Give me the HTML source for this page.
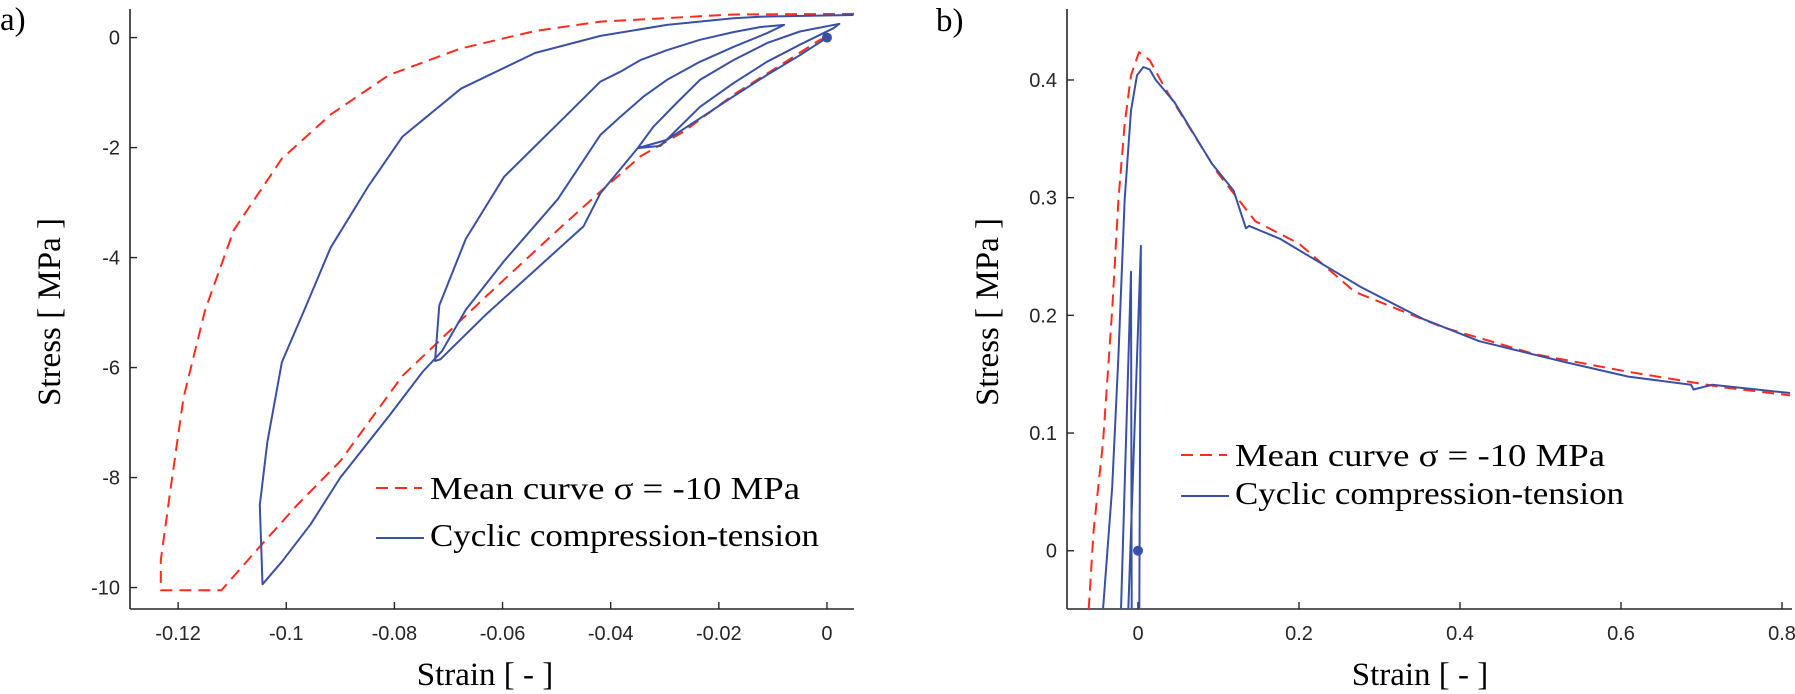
<!DOCTYPE html>
<html>
<head>
<meta charset="utf-8">
<style>
  html,body{margin:0;padding:0;background:#fff;width:1795px;height:694px;overflow:hidden;}
  svg{display:block;}
  .tick{font-family:"Liberation Sans",sans-serif;font-size:20px;fill:#262626;}
  .ttl{font-family:"Liberation Serif",serif;font-size:33px;fill:#000;}
  .leg{font-family:"Liberation Serif",serif;font-size:32px;fill:#000;}
</style>
</head>
<body>
<svg id="fig" width="1795" height="694" viewBox="0 0 1795 694" xmlns="http://www.w3.org/2000/svg">
  <defs>
    <clipPath id="clipA"><rect x="130" y="9" width="724" height="600"/></clipPath>
    <clipPath id="clipB"><rect x="1067" y="9" width="725" height="600"/></clipPath>
  </defs>
  <text x="0" y="30" class="ttl">a)</text>
  <text x="936" y="31" class="ttl">b)</text>
  <g id="panelA"></g>
  <g id="panelB"></g>
</svg>
<script>
// ---------- Panel a data ----------
const aXTicks = [-0.12, -0.1, -0.08, -0.06, -0.04, -0.02, 0];
const aXTickLabels = ["-0.12", "-0.1", "-0.08", "-0.06", "-0.04", "-0.02", "0"];
const aYTicks = [0, -2, -4, -6, -8, -10];
const aYTickLabels = ["0", "-2", "-4", "-6", "-8", "-10"];
const aMeanStrain = [0.005, -0.0173, -0.0419, -0.054, -0.0678, -0.081, -0.0918, -0.1008, -0.1097, -0.115, -0.119, -0.1214, -0.1232, -0.1232, -0.112, -0.1053, -0.098, -0.090, -0.0785, -0.063, -0.0498, -0.0419, -0.0345, -0.0265, -0.0173, -0.0081, -0.0013, 0];
const aMeanStress = [0.43, 0.42, 0.29, 0.12, -0.2, -0.68, -1.4, -2.2, -3.5, -4.95, -6.55, -8.2, -9.5, -10.05, -10.05, -9.3, -8.5, -7.7, -6.15, -4.7, -3.5, -2.8, -2.16, -1.71, -1.04, -0.47, -0.04, 0];
const aCycStrain = [0, -0.005, -0.0111, -0.0173, -0.0235, -0.0296, -0.035,
  -0.0321, -0.0278, -0.0235, -0.0173, -0.0111, -0.005, 0.0023,
  0.0012, -0.005, -0.0111, -0.0173, -0.0235, -0.0308, -0.035, -0.0419, -0.045, -0.054, -0.063, -0.0715, -0.0725, -0.0717,
  -0.0668, -0.0597, -0.0498, -0.0419, -0.0382, -0.0345, -0.0296, -0.0235, -0.0173, -0.0124, -0.0079,
  -0.0111, -0.0173, -0.0235, -0.0296, -0.0339, -0.0382, -0.0419, -0.0498, -0.0597, -0.0668, -0.0712,
  -0.0748, -0.081, -0.090, -0.0955, -0.1008, -0.1044,
  -0.1049, -0.1035, -0.1008, -0.0963, -0.0918, -0.0848, -0.0785, -0.0677, -0.054, -0.0419, -0.0296, -0.0173, -0.0124, 0.0049];
const aCycStress = [0, -0.32, -0.68, -1.07, -1.47, -1.86, -2.01,
  -1.62, -1.19, -0.77, -0.41, -0.10, 0.11, 0.25,
  0.17, -0.13, -0.44, -0.83, -1.26, -1.97, -2.01, -2.83, -3.43, -4.23, -5.03, -5.85, -5.88, -4.87,
  -3.66, -2.53, -1.57, -0.80, -0.62, -0.41, -0.23, -0.04, 0.10, 0.19, 0.23,
  0.08, -0.17, -0.44, -0.77, -1.07, -1.44, -1.77, -2.94, -4.06, -4.95, -5.7,
  -6.08, -6.88, -8.0, -8.85, -9.53, -9.94,
  -8.5, -7.36, -5.9, -4.87, -3.82, -2.7, -1.8, -0.93, -0.28, 0.03, 0.23, 0.35, 0.38, 0.41];

// ---------- Panel b data ----------
const bXTicks = [0, 0.2, 0.4, 0.6, 0.8];
const bXTickLabels = ["0", "0.2", "0.4", "0.6", "0.8"];
const bYTicks = [0, 0.1, 0.2, 0.3, 0.4];
const bYTickLabels = ["0", "0.1", "0.2", "0.3", "0.4"];
const bMeanStrain = [-0.0612, -0.0552, -0.0435, -0.032, -0.0242, -0.0165, -0.0087, 0.0012, 0.0144, 0.0335, 0.0607, 0.099, 0.1457, 0.200, 0.269, 0.378, 0.493, 0.609, 0.725, 0.81];
const bMeanStress = [-0.05, 0.017, 0.092, 0.205, 0.299, 0.363, 0.404, 0.4236, 0.417, 0.393, 0.363, 0.321, 0.280, 0.261, 0.220, 0.190, 0.167, 0.152, 0.139, 0.132];
const bCycStrain = [-0.0435, -0.032, -0.0242, -0.0165, -0.0087, -0.0012, 0.0067, 0.0144, 0.0221, 0.0453, 0.0684, 0.0917, 0.1188, 0.134, 0.138, 0.1766, 0.223, 0.277, 0.354, 0.424, 0.532, 0.609, 0.687, 0.69, 0.713, 0.81];
const bCycStress = [-0.05, 0.054, 0.167, 0.299, 0.374, 0.404, 0.411, 0.409, 0.400, 0.381, 0.355, 0.329, 0.306, 0.274, 0.276, 0.265, 0.246, 0.224, 0.197, 0.178, 0.160, 0.148, 0.141, 0.137, 0.141, 0.134];
const bSpikeStrain = [-0.0211, -0.0087, -0.0078, -0.012, 0.0036, 0.0016];
const bSpikeStress = [-0.05, 0.237, -0.05, -0.05, 0.259, -0.05];

const NS = "http://www.w3.org/2000/svg";
const RED = "#ff2b1c", BLUE = "#3a50a6", AX = "#262626";

function mk(tag, attrs, parent) {
  const el = document.createElementNS(NS, tag);
  for (const k in attrs) el.setAttribute(k, attrs[k]);
  parent.appendChild(el);
  return el;
}

function drawPanel(g, cfg) {
  const X = v => cfg.px0 + (v - cfg.x0) * (cfg.px1 - cfg.px0) / (cfg.x1 - cfg.x0);
  const Y = v => cfg.py0 + (v - cfg.y0) * (cfg.py1 - cfg.py0) / (cfg.y1 - cfg.y0);
  const ya = mk("line", {x1: cfg.px0, y1: cfg.py1, x2: cfg.px0, y2: cfg.py0, stroke: AX, "stroke-width": 1.6}, g);
  
  
  const xa = mk("line", {x1: cfg.px0, y1: cfg.py0, x2: cfg.px1, y2: cfg.py0, stroke: AX, "stroke-width": 1.6}, g);
  
  
  cfg.xt.forEach((t, i) => {
    const x = X(t);
    const tk = mk("line", {x1: x, y1: cfg.py0, x2: x, y2: cfg.py0 - 7, stroke: AX, "stroke-width": 1.4}, g);
    
    
    const tl = mk("text", {x: x, y: cfg.py0 + 31, "text-anchor": "middle", class: "tick"}, g);
    tl.textContent = cfg.xl[i];
    
    
  });
  cfg.yt.forEach((t, i) => {
    const y = Y(t);
    const tk = mk("line", {x1: cfg.px0, y1: y, x2: cfg.px0 + 7, y2: y, stroke: AX, "stroke-width": 1.4}, g);
    
    
    const tl = mk("text", {x: cfg.px0 - 10, y: y + 7, "text-anchor": "end", class: "tick"}, g);
    tl.textContent = cfg.yl[i];
    
    
  });
  const xt = mk("text", {x: cfg.xtx, y: 685, "text-anchor": "middle", class: "ttl"}, g);
  xt.textContent = "Strain [ - ]";
  
  
  const yt = mk("text", {x: 0, y: 0, "text-anchor": "middle", class: "ttl", transform: `translate(${cfg.ytx},312) rotate(-90)`}, g);
  yt.textContent = "Stress [ MPa ]";
  
  
  const plot = mk("g", {"clip-path": `url(#${cfg.clip})`}, g);
  
  
  const pts = (xs, ys) => xs.map((v, i) => X(v).toFixed(1) + "," + Y(ys[i]).toFixed(1)).join(" ");
  cfg.series.forEach(s => {
    const pl = mk("polyline", {points: pts(s.x, s.y), fill: "none", stroke: s.color, "stroke-width": 2, "stroke-linejoin": "round", "stroke-dasharray": s.dash || "none"}, plot);
    
    
  });
  const dot = mk("circle", {cx: X(0), cy: Y(0), r: 5, fill: BLUE}, plot);
  
  
  const lg = mk("g", {}, g);
  
  
  const l1 = mk("line", {x1: cfg.lx, y1: cfg.ly1, x2: cfg.lx + 46, y2: cfg.ly1, stroke: RED, "stroke-width": 2, "stroke-dasharray": "12,7"}, lg);
  
  
  const t1 = mk("text", {x: cfg.lx + 54, y: cfg.ly1 + 11, class: "leg", textLength: 370, lengthAdjust: "spacingAndGlyphs"}, lg);
  t1.textContent = "Mean curve σ = -10 MPa";
  
  
  const l2 = mk("line", {x1: cfg.lx, y1: cfg.ly2, x2: cfg.lx + 48, y2: cfg.ly2, stroke: BLUE, "stroke-width": 2}, lg);
  
  
  const t2 = mk("text", {x: cfg.lx + 54, y: cfg.ly2 + 8, class: "leg", textLength: 389, lengthAdjust: "spacingAndGlyphs"}, lg);
  t2.textContent = "Cyclic compression-tension";
  
  
}

drawPanel(document.getElementById("panelA"), {
  id: "panel-a", clip: "clipA",
  x0: -0.1289, x1: 0.005, px0: 130, px1: 854, y0: -10.39, y1: 0.52, py0: 609, py1: 9,
  xt: aXTicks, xl: aXTickLabels, yt: aYTicks, yl: aYTickLabels,
  xtx: 485, ytx: 60, lx: 376, ly1: 488, ly2: 538,
  series: [
    {x: aMeanStrain, y: aMeanStress, color: RED, dash: "12,7", name: "panel-a-mean-curve"},
    {x: aCycStrain, y: aCycStress, color: BLUE, name: "panel-a-cyclic-curve"}
  ]
});
drawPanel(document.getElementById("panelB"), {
  id: "panel-b", clip: "clipB",
  x0: -0.0882, x1: 0.8124, px0: 1067, px1: 1792, y0: -0.0495, y1: 0.4603, py0: 609, py1: 9,
  xt: bXTicks, xl: bXTickLabels, yt: bYTicks, yl: bYTickLabels,
  xtx: 1420, ytx: 998, lx: 1181, ly1: 455, ly2: 496,
  series: [
    {x: bMeanStrain, y: bMeanStress, color: RED, dash: "12,7", name: "panel-b-mean-curve"},
    {x: bCycStrain, y: bCycStress, color: BLUE, name: "panel-b-cyclic-curve"},
    {x: bSpikeStrain, y: bSpikeStress, color: BLUE, name: "panel-b-cyclic-spikes"}
  ]
});
</script>
</body>
</html>
